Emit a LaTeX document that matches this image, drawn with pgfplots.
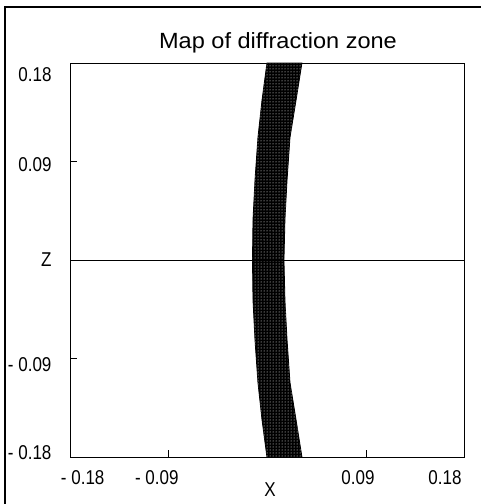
\documentclass[border=0pt]{standalone}
\usepackage{fontspec}
\setmainfont{Liberation Sans}
\newfontfamily\labfont[FakeStretch=0.85]{Liberation Sans}
\newfontfamily\titfont[FakeStretch=1.07]{Liberation Sans}
\usepackage{pgfplots}
\pgfplotsset{compat=1.18}
\usetikzlibrary{patterns}
\begin{document}
\begin{tikzpicture}[x=1pt,y=1pt]
\useasboundingbox (0,0) rectangle (481,504);
\draw[line width=2pt] (5,0) -- (5,497) -- (481,497);
\begin{axis}[
  at={(70pt,47pt)}, anchor=south west,
  scale only axis, width=395pt, height=394pt,
  xmin=-0.18, xmax=0.18, ymin=-0.18, ymax=0.18,
  axis line style={line width=1pt},
  xtick={-0.09,0.09}, ytick={-0.09,0.09},
  xticklabels={}, yticklabels={},
  tick align=inside, xtick pos=bottom, ytick pos=left,
  major tick length=7pt, tick style={line width=1pt,black},
  clip=false,
  font=\labfont\fontsize{20}{22}\selectfont,
]
\addplot[fill=black, draw=black, line width=0.8pt] coordinates {
(-0.0005,0.18) (-0.0050,0.146) (-0.0087,0.112) (-0.0114,0.073) (-0.0132,0.037) (-0.0137,0)
(-0.0132,-0.037) (-0.0114,-0.073) (-0.0087,-0.112) (-0.0050,-0.146) (-0.0005,-0.18)
(0.0314,-0.18) (0.0260,-0.146) (0.0205,-0.112) (0.0178,-0.073) (0.0159,-0.037) (0.0150,0)
(0.0159,0.037) (0.0178,0.073) (0.0205,0.112) (0.0260,0.146) (0.0314,0.18)
} -- cycle;
\addplot[draw=none, pattern=dots, pattern color=white] coordinates {
(-0.0005,0.18) (-0.0050,0.146) (-0.0087,0.112) (-0.0114,0.073) (-0.0132,0.037) (-0.0137,0)
(-0.0132,-0.037) (-0.0114,-0.073) (-0.0087,-0.112) (-0.0050,-0.146) (-0.0005,-0.18)
(0.0314,-0.18) (0.0260,-0.146) (0.0205,-0.112) (0.0178,-0.073) (0.0159,-0.037) (0.0150,0)
(0.0159,0.037) (0.0178,0.073) (0.0205,0.112) (0.0260,0.146) (0.0314,0.18)
} -- cycle;
\addplot[black, line width=1pt] coordinates {(-0.18,0) (0.18,0)};
% title
\node[anchor=base, font=\titfont\fontsize{22}{26}\selectfont] at ([xshift=10.5pt,yshift=15pt]rel axis cs:0.5,1) {Map of diffraction zone};
% y tick labels
\node[anchor=east] at ([xshift=-15pt]axis cs:-0.18,0.169) {0.18};
\node[anchor=east] at ([xshift=-15pt]axis cs:-0.18,0.0868) {0.09};
\node[anchor=east] at ([xshift=-15pt]axis cs:-0.18,0) {Z};
\node[anchor=east] at ([xshift=-15pt]axis cs:-0.18,-0.0959) {- 0.09};
\node[anchor=east] at ([xshift=-15pt]axis cs:-0.18,-0.1763) {- 0.18};
% x tick labels
\node[anchor=east] at ([yshift=-21pt]axis cs:-0.1454,-0.18) {- 0.18};
\node[anchor=east] at ([yshift=-21pt]axis cs:-0.0779,-0.18) {- 0.09};
\node[anchor=east] at ([yshift=-21pt]axis cs:0.1007,-0.18) {0.09};
\node[anchor=east] at ([yshift=-21pt]axis cs:0.18,-0.18) {0.18};
\node at ([yshift=-33pt]axis cs:0.0023,-0.18) {X};
\end{axis}
\end{tikzpicture}
\end{document}
